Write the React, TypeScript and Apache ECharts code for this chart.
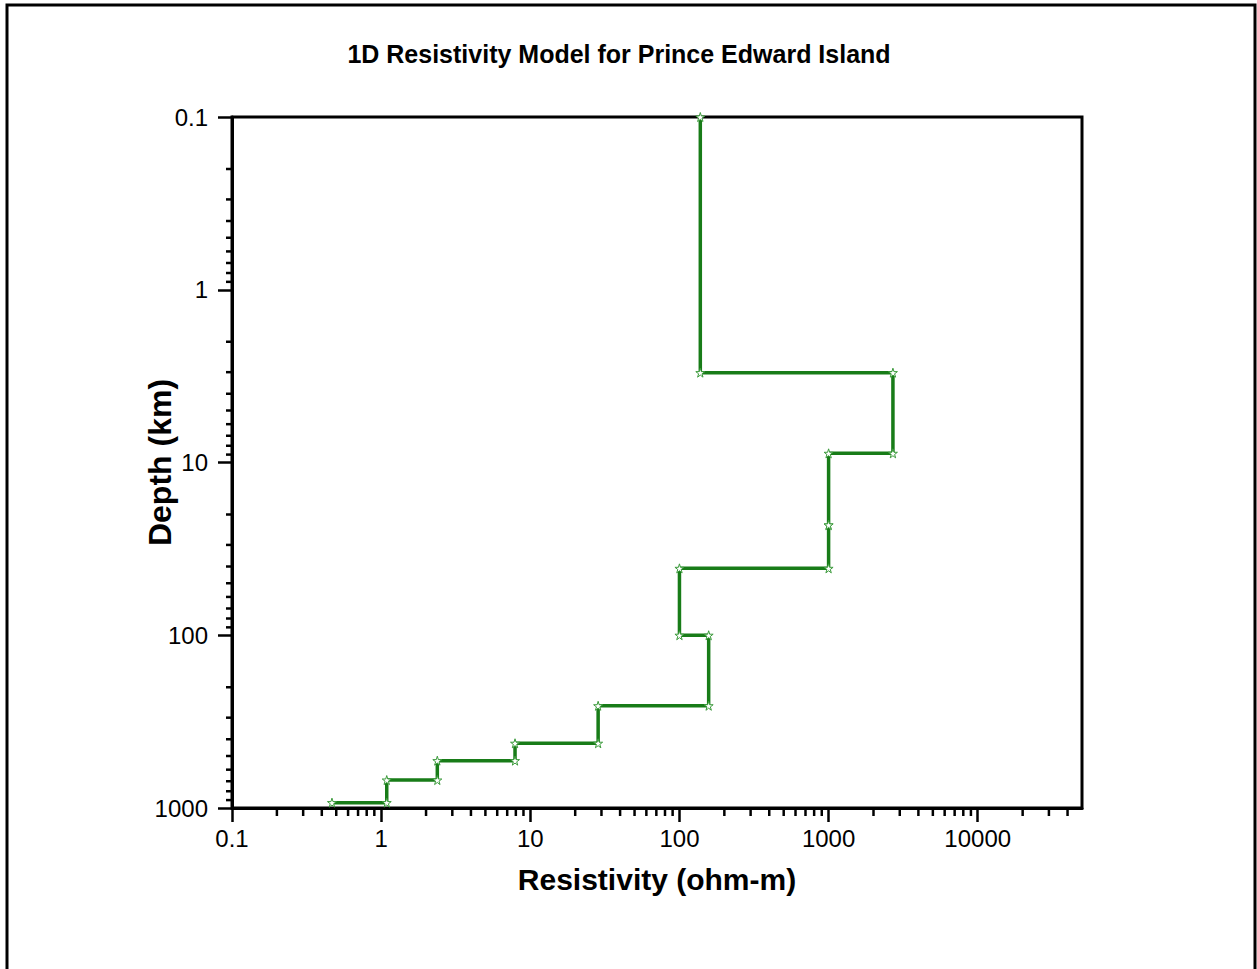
import React, { useEffect, useRef } from "react";
import * as echarts from "echarts";

// Layer resistivities (ohm-m), top to bottom
const layerResistivity = [138, 2700, 1000, 1000, 100, 157, 28.5, 7.9, 2.38, 1.09, 0.468];
// Layer boundaries (km): top of first layer, then bottoms of each layer
const layerDepths = [0.1, 3.02, 8.85, 23, 41, 100, 256, 422, 532, 689, 931];

const xMajorTicks = [0.1, 1, 10, 100, 1000, 10000];
const yMajorTicks = [0.1, 1, 10, 100, 1000];
const xMinorTicks = [
  0.2, 0.3, 0.4, 0.5, 0.6, 0.7, 0.8, 0.9,
  2, 3, 4, 5, 6, 7, 8, 9,
  20, 30, 40, 50, 60, 70, 80, 90,
  200, 300, 400, 500, 600, 700, 800, 900,
  2000, 3000, 4000, 5000, 6000, 7000, 8000, 9000,
  20000, 30000, 40000,
];
const yMinorTicks = [
  0.2, 0.3, 0.4, 0.5, 0.6, 0.7, 0.8, 0.9,
  2, 3, 4, 5, 6, 7, 8, 9,
  20, 30, 40, 50, 60, 70, 80, 90,
  200, 300, 400, 500, 600, 700, 800, 900,
];

const FONT = "Arial, 'Liberation Sans', sans-serif";
const STAR = "path://M50,0 L61,35 L98,35 L68,57 L79,91 L50,70 L21,91 L32,57 L2,35 L39,35 Z";

function buildStepPoints(): number[][] {
  const pts: number[][] = [];
  for (let i = 0; i < layerResistivity.length; i++) {
    const r = layerResistivity[i];
    pts.push([r, layerDepths[i]]);
    if (i + 1 < layerDepths.length) pts.push([r, layerDepths[i + 1]]);
  }
  return pts;
}

function fmt(v: number): string {
  const n = Number(v.toPrecision(6));
  return xMajorTicks.includes(n) || yMajorTicks.includes(n) ? String(n) : "";
}

export default function App() {
  const ref = useRef<HTMLDivElement>(null);
  useEffect(() => {
    if (!ref.current) return;
    const chart = echarts.init(ref.current, null, { renderer: "svg" });
    const axisCommon = {
      type: "log" as const,
      logBase: 10,
      nameMoveOverlap: false,
      axisLine: { show: true, onZero: false, lineStyle: { color: "#000", width: 3 } },
      axisTick: { show: true, inside: false, length: 14, lineStyle: { color: "#000", width: 2.5 } },
      splitLine: { show: false },
      minorTick: { show: false },
    };
    chart.setOption({
      animation: false,
      backgroundColor: "#fff",
      title: {
        text: "1D Resistivity Model for Prince Edward Island",
        left: 614,
        top: 36,
        textAlign: "center",
        textStyle: { fontFamily: FONT, fontWeight: "bold", fontSize: 25, color: "#000" },
      },
      graphic: [
        {
          type: "rect",
          shape: { x: 7, y: 5, width: 1248, height: 1000 },
          style: { fill: "none", stroke: "#000", lineWidth: 3 },
          silent: true,
        },
      ],
      grid: {
        left: 232,
        top: 117,
        width: 850,
        height: 691,
        show: true,
        borderColor: "#000",
        borderWidth: 3,
        backgroundColor: "transparent",
      },
      xAxis: {
        ...axisCommon,
        min: 0.1,
        max: 50000,
        name: "Resistivity (ohm-m)",
        nameLocation: "middle",
        nameGap: 56,
        nameTextStyle: { fontFamily: FONT, fontWeight: "bold", fontSize: 30, color: "#000" },
        axisLabel: {
          fontFamily: FONT,
          fontSize: 24,
          color: "#000",
          margin: 18,
          showMaxLabel: false,
          formatter: (v: number) => fmt(v),
        },
      },
      yAxis: {
        ...axisCommon,
        min: 0.1,
        max: 1000,
        inverse: true,
        name: "Depth (km)",
        nameLocation: "middle",
        nameGap: 56,
        nameTextStyle: { fontFamily: FONT, fontWeight: "bold", fontSize: 32, color: "#000" },
        axisLabel: {
          fontFamily: FONT,
          fontSize: 24,
          color: "#000",
          margin: 24,
          formatter: (v: number) => fmt(v),
        },
      },
      series: [
        {
          type: "line",
          data: buildStepPoints(),
          lineStyle: { color: "#187c18", width: 3.5 },
          symbol: STAR,
          symbolSize: 9,
          itemStyle: { color: "#ffffff", borderColor: "#3a9a3a", borderWidth: 1 },
          z: 3,
        },
        {
          type: "custom",
          clip: false,
          silent: true,
          data: xMinorTicks.map((v) => [v, 1000]),
          renderItem: (params: any, api: any) => {
            const p = api.coord([api.value(0), api.value(1)]);
            return {
              type: "line",
              shape: { x1: p[0], y1: p[1], x2: p[0], y2: p[1] + 8 },
              style: { stroke: "#000", lineWidth: 2.5 },
            };
          },
        },
        {
          type: "custom",
          clip: false,
          silent: true,
          data: yMinorTicks.map((v) => [0.1, v]),
          renderItem: (params: any, api: any) => {
            const p = api.coord([api.value(0), api.value(1)]);
            return {
              type: "line",
              shape: { x1: p[0] - 6, y1: p[1], x2: p[0], y2: p[1] },
              style: { stroke: "#000", lineWidth: 2.5 },
            };
          },
        },
      ],
    });
    return () => chart.dispose();
  }, []);
  return (
    <div
      ref={ref}
      style={{ position: "fixed", left: 0, top: 0, width: 1257, height: 969, background: "#fff" }}
    />
  );
}
